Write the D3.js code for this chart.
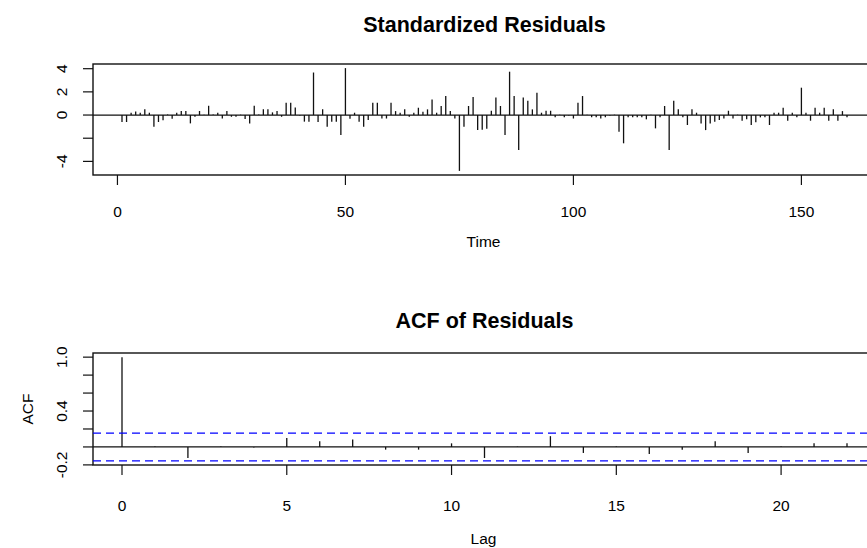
<!DOCTYPE html>
<html>
<head>
<meta charset="utf-8">
<script src="https://cdn.jsdelivr.net/npm/d3@7"></script>
<style>
  body { margin: 0; background: #fff; overflow: hidden; }
  svg { display: block; font-family: "Liberation Sans", Arial, sans-serif; }
</style>
</head>
<body>
<div class="a"></div>
<script>
// standardized residuals, t = 1..160
const residuals = [
  -0.6, -0.6, 0.2, 0.3, 0.2, 0.5, 0.2, -1.0, -0.6, -0.45,
  0.05, -0.33, 0.2, 0.35, 0.35, -0.72, -0.15, 0.35, 0.03, 0.8,
  0.04, 0.2, -0.3, 0.34, -0.15, -0.15, 0.03, -0.35, -0.72, 0.8,
  0.04, 0.5, 0.5, 0.23, 0.34, -0.15, 1.06, 1.06, 0.64, -0.04,
  -0.57, -0.57, 3.67, -0.6, 0.5, -1.0, -0.57, -0.57, -1.72, 4.05,
  -0.32, 0.2, -0.57, -1.0, -0.43, 1.06, 1.06, -0.3, -0.3, 1.06,
  0.34, 0.2, 0.49, -0.15, 0.2, 0.63, 0.29, 0.49, 1.35, 0.2,
  0.78, 1.64, 0.34, -0.3, -4.82, -1.0, 0.78, 1.55, -1.3, -1.27,
  -1.18, 0.37, 1.52, 0.78, -1.72, 3.74, 1.64, -3.02, 1.52, 1.24,
  0.49, 1.93, 0.2, 0.37, 0.37, -0.2, 0.03, -0.2, -0.03, -0.3,
  1.06, 1.64, 0.03, -0.2, -0.2, -0.3, -0.2, -0.03, 0.03, -1.44,
  -2.44, -0.2, -0.2, -0.2, -0.2, -0.37, 0.03, -1.15, -0.2, 0.78,
  -3.02, 1.24, 0.49, -0.2, -0.86, 0.49, 0.2, -0.72, -1.3, -0.72,
  -0.57, -0.43, -0.29, 0.37, -0.29, 0.03, -0.49, -0.37, -0.86, -0.63,
  -0.2, -0.2, -0.86, 0.2, 0.2, 0.63, -0.49, 0.2, -0.2, 2.36,
  0.2, -0.49, 0.63, 0.2, 0.63, -0.49, 0.49, -0.49, 0.34, -0.2
];

// ACF of residuals, lag = 0..22
const acfValues = [
  1.0, 0.005, -0.123, 0.004, -0.006, 0.10, 0.063, 0.082, -0.03, -0.03,
  0.04, -0.123, 0.004, 0.12, -0.067, 0.005, -0.078, -0.03, 0.063, -0.067,
  0.004, 0.04, 0.04
];

const timeTicks = [0, 50, 100, 150];
const resTicks = [-4, -2, 0, 2, 4];
const resTickLabels = ["-4", "", "0", "2", "4"];
const lagTicks = [0, 5, 10, 15, 20];
const acfTicks = [-0.2, 0, 0.2, 0.4, 0.6, 0.8, 1.0];
const acfTickLabels = ["-0.2", "", "", "0.4", "", "", "1.0"];

const W = 867, H = 548;
const svg = d3.select(".a").append("svg")
  .attr("width", W).attr("height", H);

// R style 4% axis extension
function rlim(lo, hi) {
  const e = (hi - lo) * 0.04;
  return [lo - e, hi + e];
}

const boxLeft = 93, boxRight = 876;
const ink = "#111";

function drawPanel(p) {
  const g = svg.append("g");
  // ticks on x
  p.xTicks.forEach(t => {
    g.append("line")
      .attr("x1", p.x(t)).attr("x2", p.x(t))
      .attr("y1", p.top + p.h).attr("y2", p.top + p.h + 10)
      .attr("stroke", ink).attr("stroke-width", 1.2);
    g.append("text")
      .attr("x", p.x(t)).attr("y", p.top + p.h + p.tickDy)
      .attr("text-anchor", "middle")
      .style("font-size", "15.5px")
      .attr("fill", "#000")
      .text(t);
  });
  // ticks on y
  p.yTicks.forEach((t, i) => {
    g.append("line")
      .attr("x1", boxLeft - 10).attr("x2", boxLeft)
      .attr("y1", p.y(t)).attr("y2", p.y(t))
      .attr("stroke", ink).attr("stroke-width", 1.2);
    if (p.yLabels[i]) {
      g.append("text")
        .attr("transform", `translate(${boxLeft - 31},${p.y(t)}) rotate(-90)`)
        .attr("text-anchor", "middle")
        .attr("dy", "0.35em")
        .style("font-size", "15.5px")
        .attr("fill", "#000")
        .text(p.yLabels[i]);
    }
  });
  // box
  g.append("rect")
    .attr("x", boxLeft).attr("y", p.top)
    .attr("width", boxRight - boxLeft).attr("height", p.h)
    .attr("fill", "none").attr("stroke", ink).attr("stroke-width", 1.4);
  // title
  g.append("text")
    .attr("x", (boxLeft + boxRight) / 2).attr("y", p.top - p.titleDy)
    .attr("text-anchor", "middle")
    .style("font-size", "21.5px").style("font-weight", "bold")
    .attr("fill", "#000")
    .text(p.title);
  // x label
  g.append("text")
    .attr("x", (boxLeft + boxRight) / 2 - 1).attr("y", p.top + p.h + p.labelDy)
    .attr("text-anchor", "middle")
    .style("font-size", "15.5px")
    .attr("fill", "#000")
    .text(p.xLabel);
  return g;
}

// ---- panel 1: standardized residuals
const n = residuals.length;
const p1 = { top: 64, h: 111, tickDy: 42, labelDy: 72, titleDy: 32 };
p1.x = d3.scaleLinear().domain(rlim(1, n)).range([boxLeft, boxRight]);
p1.y = d3.scaleLinear().domain(rlim(d3.min(residuals), d3.max(residuals))).range([p1.top + p1.h, p1.top]);
p1.xTicks = timeTicks;
p1.yTicks = resTicks;
p1.yLabels = resTickLabels;
p1.title = "Standardized Residuals";
p1.xLabel = "Time";
const g1 = drawPanel(p1);

g1.append("line")
  .attr("x1", boxLeft).attr("x2", boxRight)
  .attr("y1", p1.y(0)).attr("y2", p1.y(0))
  .attr("stroke", ink).attr("stroke-width", 1.3);

g1.selectAll(".res")
  .data(residuals)
  .join("line")
  .attr("class", "res")
  .attr("x1", (d, i) => p1.x(i + 1)).attr("x2", (d, i) => p1.x(i + 1))
  .attr("y1", p1.y(0)).attr("y2", d => p1.y(d))
  .attr("stroke", ink).attr("stroke-width", 1.3);

// ---- panel 2: ACF of residuals
const clim = 1.96 / Math.sqrt(n);
const p2 = { top: 353, h: 112, tickDy: 46, labelDy: 79, titleDy: 25 };
p2.x = d3.scaleLinear().domain(rlim(0, acfValues.length - 1)).range([boxLeft, boxRight]);
p2.y = d3.scaleLinear()
  .domain(rlim(Math.min(-clim, d3.min(acfValues)), Math.max(clim, d3.max(acfValues))))
  .range([p2.top + p2.h, p2.top]);
p2.xTicks = lagTicks;
p2.yTicks = acfTicks;
p2.yLabels = acfTickLabels;
p2.title = "ACF of Residuals";
p2.xLabel = "Lag";
const g2 = drawPanel(p2);

g2.append("text")
  .attr("transform", `translate(28,${p2.top + p2.h / 2}) rotate(-90)`)
  .attr("text-anchor", "middle")
  .attr("dy", "0.35em")
  .style("font-size", "15.5px")
  .attr("fill", "#000")
  .text("ACF");

g2.append("line")
  .attr("x1", boxLeft).attr("x2", boxRight)
  .attr("y1", p2.y(0)).attr("y2", p2.y(0))
  .attr("stroke", ink).attr("stroke-width", 1.3);

g2.selectAll(".acf")
  .data(acfValues)
  .join("line")
  .attr("class", "acf")
  .attr("x1", (d, i) => p2.x(i)).attr("x2", (d, i) => p2.x(i))
  .attr("y1", p2.y(0)).attr("y2", d => p2.y(d))
  .attr("stroke", ink).attr("stroke-width", 1.3);

// confidence bounds
[clim, -clim].forEach(c => {
  g2.append("line")
    .attr("x1", boxLeft).attr("x2", boxRight)
    .attr("y1", p2.y(c)).attr("y2", p2.y(c))
    .attr("stroke", "#0000ff").attr("stroke-width", 1.3)
    .attr("stroke-dasharray", "8,5");
});
</script>
</body>
</html>
